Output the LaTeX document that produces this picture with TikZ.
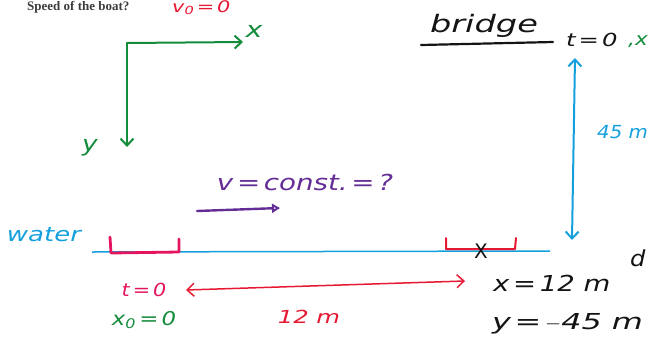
\documentclass[tikz,border=0pt]{standalone}
\usepackage{fontspec}
\setmainfont{DejaVu Sans}
\newfontfamily\serifhead{Liberation Serif}
\usetikzlibrary{arrows.meta}
\definecolor{ink}{RGB}{20,20,20}
\definecolor{axgreen}{RGB}{20,140,60}
\definecolor{wred}{RGB}{230,25,50}
\definecolor{wpink}{RGB}{228,20,95}
\definecolor{wblue}{RGB}{20,160,220}
\definecolor{wpurple}{RGB}{100,45,150}
\definecolor{hgrey}{RGB}{60,60,60}
\newcommand\hw[2]{\fontsize{#1}{#1}\selectfont\itshape\addfontfeature{FakeStretch=#2}}
\tikzset{
  hand/.style={inner sep=0pt},
  pen/.style={line width=2pt, line cap=round, line join=round},
  openarrow/.style={-{Straight Barb[length=7pt,width=13pt]}},
  openarrows/.style={{Straight Barb[length=7pt,width=13pt]}-{Straight Barb[length=7pt,width=13pt]}}
}
\begin{document}
\begin{tikzpicture}[x=1pt,y=-1pt]
\useasboundingbox (0,0) rectangle (649,341);
% header (cut at top in the source)
\node[text=hgrey, font=\serifhead\bfseries\fontsize{13}{13}\selectfont, anchor=base west, hand] (hdr) at (27,10) {Speed of the boat?};
\node[text=wred, font=\hw{16}{1.3}, anchor=base west, hand] (v0) at (172,12) {v\textsubscript{0}\,=\,0};
% axes
\coordinate (O) at (127,43);
\coordinate (xe) at (243,42);
\coordinate (ye) at (127,147);
\draw[pen, axgreen, openarrow] (O) -- (xe);
\draw[pen, axgreen, openarrow] (O) -- (ye);
\node[text=axgreen, font=\hw{22}{1.3}, hand] (xl) at (254,31) {x};
\node[text=axgreen, font=\hw{22}{1.2}, hand] (yl) at (90,148) {y};
% bridge
\node[text=ink, font=\hw{24}{1.4}, hand] (br) at (484,26) {bridge};
\coordinate (b1) at (421,45);
\coordinate (b2) at (553,42);
\draw[pen, ink, line width=2.2pt] (b1) -- (b2);
\node[text=ink, font=\hw{18}{1.35}, hand, anchor=west] (t0) at (566,40) {t\,=\,0};
\node[text=axgreen, font=\hw{18}{1.2}, hand, anchor=west] (gc) at (628,42) {,x};
% 45 m
\coordinate (h1) at (575,58);
\coordinate (h2) at (572,240);
\draw[pen, wblue, openarrows] (h1) -- (h2);
\node[text=wblue, font=\hw{18}{1.1}, hand, anchor=west] (h45) at (597,132) {45 m};
% velocity
\node[text=wpurple, font=\hw{22}{1.26}, hand] (vc) at (305,182) {v\,=\,const.\,=\,?};
\coordinate (p1) at (197,211);
\coordinate (p2) at (280,208);
\draw[pen, wpurple, line width=2.4pt, -{Triangle[length=8pt,width=9pt,open]}] (p1) -- (p2);
% water
\node[text=wblue, font=\hw{20}{1.3}, hand] (wt) at (44,235) {water};
\coordinate (w1) at (92,252);
\coordinate (w2) at (550,251);
\draw[line width=1.5pt, wblue] (w1) -- (w2);
% boats
\draw[line width=2.8pt, wpink, line cap=round, line join=round] (110,237) -- (111,253) -- (179,252) -- (179,239);
\draw[line width=2pt, wred, line cap=round, line join=round] (446,238) -- (446,249) -- (515,249) -- (516,238);
\node[text=ink, font=\fontsize{20}{20}\selectfont, hand] (X) at (481,251) {X};
% distance
\coordinate (d1) at (186,290);
\coordinate (d2) at (465,281);
\draw[line width=1.5pt, wred, openarrows] (d1) -- (d2);
\node[text=wred, font=\hw{18}{1.35}, hand] (l12) at (309,317) {12 m};
\node[text=wpink, font=\hw{18}{1.15}, hand] (tl) at (144,290) {t\,=\,0};
\node[text=axgreen, font=\hw{19}{1.2}, hand] (x0) at (144,320) {x\textsubscript{0}\,=\,0};
% results
\node[text=ink, font=\hw{22}{1.25}, hand, anchor=west] (xr) at (493,283) {x\,=\,12 m};
\node[text=ink, font=\hw{22}{1.45}, hand, anchor=west] (yr) at (492,324) {y\,=\,$-$45 m};
\node[text=ink, font=\hw{22}{1.1}, hand, anchor=west] (bc) at (630,258) {d};
\end{tikzpicture}
\end{document}
